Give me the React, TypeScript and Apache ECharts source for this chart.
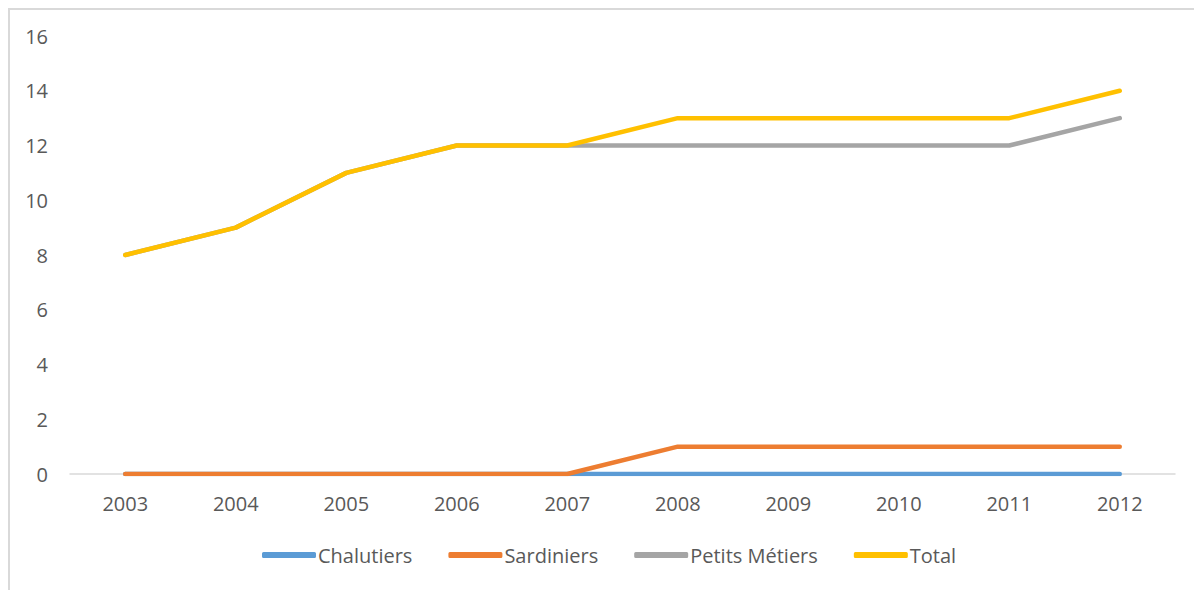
import React, { useEffect, useRef } from "react";
import * as echarts from "echarts";

const years = ["2003", "2004", "2005", "2006", "2007", "2008", "2009", "2010", "2011", "2012"];
const chalutiers = [0, 0, 0, 0, 0, 0, 0, 0, 0, 0];
const sardiniers = [0, 0, 0, 0, 0, 1, 1, 1, 1, 1];
const petitsMetiers = [8, 9, 11, 12, 12, 12, 12, 12, 12, 13];
const total = [8, 9, 11, 12, 12, 13, 13, 13, 13, 14];

const FONT = "'Open Sans', sans-serif";
const TEXT = "#595959";

export default function App() {
  const ref = useRef<HTMLDivElement>(null);
  useEffect(() => {
    if (!ref.current) return;
    const chart = echarts.init(ref.current, undefined, { renderer: "svg" });
    const mk = (name: string, data: number[], color: string) => ({
      name,
      type: "line",
      data,
      symbol: "none",
      lineStyle: { width: 4.5, color, cap: "round", join: "round" },
      itemStyle: { color },
    });
    chart.setOption({
      animation: false,
      backgroundColor: "#ffffff",
      grid: { left: 70, right: 19, top: 36, bottom: 116 },
      xAxis: {
        type: "category",
        data: years,
        boundaryGap: true,
        axisLine: { lineStyle: { color: "#d9d9d9", width: 1.5 } },
        axisTick: { show: false },
        axisLabel: { color: TEXT, fontFamily: FONT, fontSize: 20, margin: 19 },
      },
      yAxis: {
        type: "value",
        min: 0,
        max: 16,
        interval: 2,
        axisLine: { show: false },
        axisTick: { show: false },
        splitLine: { show: false },
        axisLabel: { color: TEXT, fontFamily: FONT, fontSize: 20, margin: 22 },
      },
      legend: {
        bottom: 20,
        left: 257,
        itemWidth: 54,
        itemHeight: 6,
        itemGap: 36,
        icon: "roundRect",
        textStyle: { color: TEXT, fontFamily: FONT, fontSize: 20, padding: [0, 0, 0, -3] },
        data: ["Chalutiers", "Sardiniers", "Petits Métiers", "Total"],
      },
      series: [
        mk("Chalutiers", chalutiers, "#5B9BD5"),
        mk("Sardiniers", sardiniers, "#ED7D31"),
        mk("Petits Métiers", petitsMetiers, "#A5A5A5"),
        mk("Total", total, "#FFC000"),
      ],
    });
    return () => chart.dispose();
  }, []);
  return (
    <>
      <div ref={ref} style={{ position: "fixed", left: 0, top: 0, width: 1194, height: 590 }} />
      <div
        style={{
          position: "fixed",
          left: 8,
          top: 8,
          width: 1300,
          height: 700,
          border: "2px solid #d9d9d9",
          pointerEvents: "none",
        }}
      />
    </>
  );
}
